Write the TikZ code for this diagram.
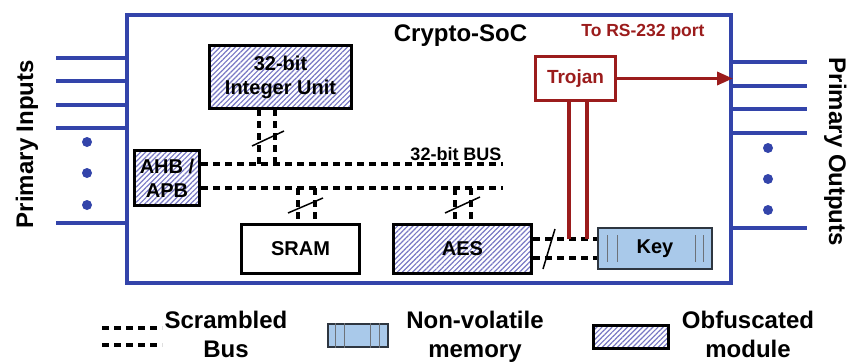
\documentclass[tikz,border=0pt]{standalone}
\usepackage{fontspec}
\setmainfont{Liberation Sans}
\usetikzlibrary{patterns.meta,arrows.meta,calc}
\definecolor{socblue}{HTML}{3344AA}
\definecolor{trojred}{HTML}{9B1C1C}
\definecolor{hatchc}{HTML}{7878C4}
\definecolor{keyfill}{HTML}{A9C9EA}
\definecolor{keyline}{HTML}{2E3640}
\begin{document}
\begin{tikzpicture}[x=1pt,y=-1pt,
  txtbig/.style={font=\fontsize{24}{29}\selectfont\bfseries},
  txtmid/.style={font=\fontsize{20}{25}\selectfont\bfseries},
  obfbox/.style={draw=black, line width=3.5pt, pattern={Lines[angle=45,distance=3.6pt,line width=1.2pt]}, pattern color=hatchc, txtmid, align=center, inner sep=0pt},
  plainbox/.style={draw=black, line width=3.5pt, fill=white, txtmid, inner sep=0pt},
  keybox/.style={draw=keyline, line width=2pt, fill=keyfill, txtmid, inner sep=0pt},
  busline/.style={line width=3.3pt, dash pattern=on 7pt off 5pt},
  slashmark/.style={line width=1.5pt},
  ioline/.style={socblue, line width=3.5pt},
  redline/.style={trojred, line width=3.5pt},
  keyinner/.style={keyline!70, line width=1pt}
]
\useasboundingbox (0,0) rectangle (852,364);

% SoC frame
\node[draw=socblue, line width=4pt, minimum width=604pt, minimum height=268pt, inner sep=0pt] (soc) at (429,149) {};
\node[txtbig, anchor=base] (title) at (460.5,41) {Crypto-SoC};
\node[font=\fontsize{17.5}{21}\selectfont\bfseries, text=trojred, anchor=base] (rs) at (643,36.5) {To RS-232 port};

% I/O lines
\foreach \y in {58,81,105,128,223} \draw[ioline] (56,\y) -- (soc.west |- 56,\y);
\foreach \y in {62,86,109,133,228} \draw[ioline] (soc.east |- 0,\y) -- (807,\y);
\foreach \y in {142,173,205} \fill[socblue] (87,\y) circle (5pt);
\foreach \y in {148,179,210} \fill[socblue] (768,\y) circle (5pt);
\node[txtbig, rotate=90, anchor=base] (pin) at (33,144) {Primary Inputs};
\node[txtbig, rotate=-90, anchor=base] (pout) at (829,152) {Primary Outputs};

% modules
\node[obfbox, minimum width=142pt, minimum height=63pt] (iu) at (280.5,77) {32-bit\\[-1pt]Integer Unit};
\node[obfbox, minimum width=65pt, minimum height=55pt] (ahb) at (167,178) {AHB /\\[-1pt]APB};
\node[plainbox, minimum width=118pt, minimum height=49pt] (sram) at (300.5,249) {SRAM};
\node[obfbox, minimum width=138pt, minimum height=49pt] (aes) at (462.5,249) {AES};
\node[keybox, minimum width=114pt, minimum height=41pt] (key) at (655,248.5) {Key};
\node[draw=trojred, line width=3pt, text=trojred, minimum width=80pt, minimum height=44pt, inner sep=0pt, font=\fontsize{19}{23}\selectfont\bfseries] (troj) at (575.5,78.5) {Trojan};

% key inner bars
\foreach \dx in {10,20} \draw[keyinner] ($(key.north west)+(\dx,8)$) -- ($(key.south west)+(\dx,-8)$);
\foreach \dx in {-18,-10} \draw[keyinner] ($(key.north east)+(\dx,8)$) -- ($(key.south east)+(\dx,-8)$);

% buses
\coordinate (bt) at (503,164);
\coordinate (bb) at (503,188);
\draw[busline] (ahb.east |- bt) -- (bt);
\draw[busline] (ahb.east |- bb) -- (bb);
\node[font=\fontsize{18}{22}\selectfont\bfseries, anchor=base] (buslbl) at (456,160) {32-bit BUS};

\foreach \dx in {-21.5,-5.5} \draw[busline] ([xshift=\dx pt]iu.south) -- ([xshift=\dx pt]iu.south |- bt);
\draw[slashmark] (252,146) -- (284,131);

\foreach \dx in {-2.5,14.5} \draw[busline] ([xshift=\dx pt]sram.north |- bb) -- ([xshift=\dx pt]sram.north);
\draw[slashmark] (288,213) -- (323,198);

\foreach \dx in {-7.5,8.5} \draw[busline] ([xshift=\dx pt]aes.north |- bb) -- ([xshift=\dx pt]aes.north);
\draw[slashmark] (445,213) -- (480,197);

\coordinate (ak1) at ($(aes.east)+(0,-10)$);
\coordinate (ak2) at ($(aes.east)+(0,9)$);
\draw[busline] (ak1) -- (ak1 -| key.west);
\draw[busline] (ak2) -- (ak2 -| key.west);
\draw[slashmark] (543,269) -- (555,229);

% trojan taps and output
\foreach \dx in {-6.5,11.5} \draw[redline] ([xshift=\dx pt]troj.south) -- ([xshift=\dx pt]troj.south |- ak1);
\draw[redline, -{Triangle[length=16pt,width=13pt]}] (troj.east) -- (troj.east -| soc.east);

% legend
\coordinate (la1) at (102,328); \coordinate (lb1) at (162,328);
\coordinate (la2) at (102,345); \coordinate (lb2) at (162,345);
\draw[busline] (la1) -- (lb1);
\draw[busline] (la2) -- (lb2);
\node[txtbig, anchor=base] (lg1a) at (226,328) {Scrambled};
\node[txtbig, anchor=base] (lg1b) at (226,357) {Bus};

\node[keybox, minimum width=60pt, minimum height=23pt] (lgkey) at (358,335.5) {};
\foreach \xx in {335,344,370,379} \draw[keyinner] (\xx,0 |- lgkey.north) -- (\xx,0 |- lgkey.south);
\node[txtbig, anchor=base] (lg2a) at (475,328) {Non-volatile};
\node[txtbig, anchor=base] (lg2b) at (475,357) {memory};

\node[obfbox, minimum width=75pt, minimum height=23pt] (lgobf) at (631,337) {};
\node[txtbig, anchor=base] (lg3a) at (748,328) {Obfuscated};
\node[txtbig, anchor=base] (lg3b) at (748,357) {module};
\end{tikzpicture}
\end{document}
